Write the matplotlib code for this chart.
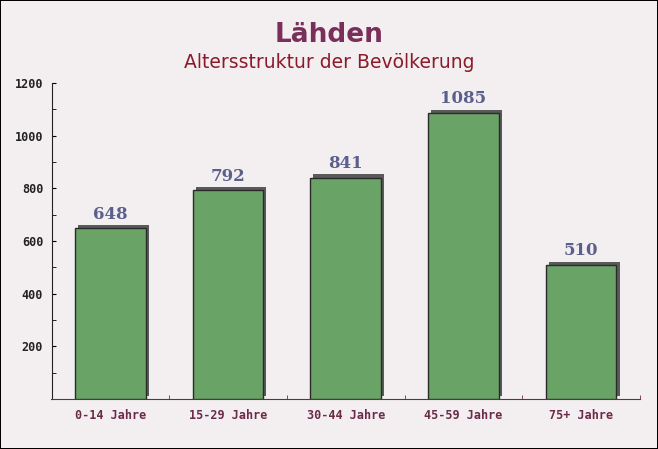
import numpy as np
import matplotlib.pyplot as plt
import matplotlib.patheffects as pe

categories = ['0-14 Jahre', '15-29 Jahre', '30-44 Jahre', '45-59 Jahre', '75+ Jahre']
values = [648, 792, 841, 1085, 510]
yticks = [200, 400, 600, 800, 1000, 1200]

W, H = 658, 449
fig = plt.figure(figsize=(W / 100, H / 100), dpi=100)
fig.patch.set_facecolor('#f3eff0')
fig.patch.set_edgecolor('black')
fig.patch.set_linewidth(1.2)

ax = fig.add_axes([51.5 / W, (H - 399) / H, (640 - 51.5) / W, (399 - 83) / H])
ax.set_facecolor('none')

x = np.arange(len(categories))
bars = ax.bar(x, values, width=0.6, color='#6aa366', edgecolor='#2a2a2a',
              linewidth=1, zorder=3)
for b in bars:
    b.set_path_effects([pe.SimplePatchShadow(offset=(2.2, 2.2), shadow_rgbFace='#5a5a5a', alpha=1.0),
                        pe.Normal()])

for xi, v in zip(x, values):
    ax.text(xi, v + 22, str(v), ha='center', va='bottom', fontsize=12,
            family='DejaVu Serif', fontweight='bold', color='#5a5f8c', zorder=4)

ax.set_xlim(-0.5, len(categories) - 0.5)
ax.set_ylim(0, 1200)
ax.set_yticks(yticks)
ax.set_yticks(np.arange(100, 1200, 100), minor=True)
ax.set_xticks(x)
ax.set_xticklabels(categories)
ax.set_xticks(np.arange(0.5, len(categories), 1), minor=True)

ax.tick_params(axis='y', which='both', direction='in', length=3, labelsize=8.5,
               labelcolor='#222222', pad=6)
ax.tick_params(axis='x', which='major', length=0, labelsize=8.5,
               labelcolor='#6b2a4a', pad=7)
ax.tick_params(axis='x', which='minor', direction='in', length=3, color='#6b2a4a')
for lab in ax.get_xticklabels() + ax.get_yticklabels():
    lab.set_family('DejaVu Sans Mono')
    lab.set_fontweight('bold')

for s in ['top', 'right']:
    ax.spines[s].set_visible(False)
ax.spines['left'].set_color('#222222')
ax.spines['bottom'].set_color('#6b2a4a')

fig.text(0.5, 1 - 35 / H, 'Lähden', ha='center', va='center', fontsize=19,
         fontweight='bold', color='#7a2e5a')
fig.text(0.5, 1 - 63 / H, 'Altersstruktur der Bevölkerung', ha='center', va='center',
         fontsize=13.5, color='#8b1a2a')

fig.savefig('out.png', dpi=100, facecolor=fig.get_facecolor(), edgecolor=fig.get_edgecolor())
